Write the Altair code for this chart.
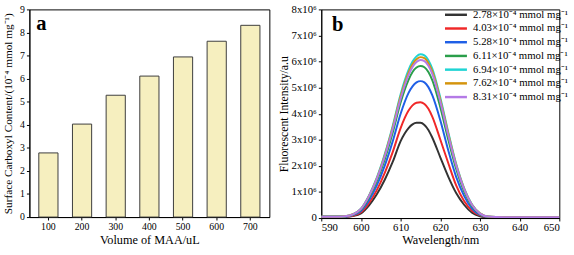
import altair as alt
import pandas as pd

# ---------- panel a data ----------
volumes = ["100", "200", "300", "400", "500", "600", "700"]
carboxyl = [2.78, 4.03, 5.28, 6.11, 6.94, 7.62, 8.31]

# ---------- panel b data (intensity in units of 1e6) ----------
wavelength = [590, 593, 596, 598, 600, 602, 604, 606, 608, 610, 612, 613, 614, 615,
              616, 617, 618, 620, 622, 624, 626, 628, 630, 632, 636, 640, 645, 650]
s_278 = [.05, .05, .05, .08, .18, .48, .91, 1.47, 2.15, 2.95, 3.45, 3.59, 3.65, 3.65,
         3.57, 3.38, 3.08, 2.33, 1.59, .96, .51, .20, .07, .03, .03, .03, .03, .03]
s_403 = [.05, .05, .05, .09, .22, .57, 1.07, 1.73, 2.53, 3.45, 4.12, 4.32, 4.42, 4.44,
         4.37, 4.19, 3.88, 3.01, 2.11, 1.25, .65, .28, .10, .04, .03, .03, .03, .03]
s_528 = [.05, .05, .05, .11, .27, .67, 1.25, 2.01, 2.94, 4.00, 4.80, 5.05, 5.20, 5.25,
         5.20, 5.02, 4.70, 3.75, 2.60, 1.58, .85, .36, .12, .04, .03, .03, .03, .03]
s_611 = [.05, .05, .06, .13, .32, .78, 1.42, 2.25, 3.27, 4.43, 5.30, 5.60, 5.77, 5.83,
         5.78, 5.60, 5.28, 4.25, 3.01, 1.88, 1.02, .45, .15, .05, .03, .03, .03, .03]
s_694 = [.05, .05, .07, .15, .36, .86, 1.55, 2.45, 3.53, 4.75, 5.68, 6.00, 6.20, 6.28,
         6.24, 6.05, 5.72, 4.62, 3.30, 2.08, 1.15, .52, .18, .06, .03, .03, .03, .03]
s_762 = [.05, .05, .07, .15, .35, .84, 1.52, 2.41, 3.47, 4.67, 5.58, 5.90, 6.09, 6.17,
         6.13, 5.94, 5.62, 4.54, 3.24, 2.04, 1.13, .51, .18, .06, .03, .03, .03, .03]
s_831 = [.05, .05, .07, .14, .35, .83, 1.50, 2.36, 3.41, 4.58, 5.48, 5.79, 5.98, 6.06,
         6.02, 5.84, 5.52, 4.46, 3.18, 2.01, 1.11, .50, .17, .06, .03, .03, .03, .03]

series_labels = [
    "2.78×10⁻⁴ mmol mg⁻¹",
    "4.03×10⁻⁴ mmol mg⁻¹",
    "5.28×10⁻⁴ mmol mg⁻¹",
    "6.11×10⁻⁴ mmol mg⁻¹",
    "6.94×10⁻⁴ mmol mg⁻¹",
    "7.62×10⁻⁴ mmol mg⁻¹",
    "8.31×10⁻⁴ mmol mg⁻¹",
]
series_values = [s_278, s_403, s_528, s_611, s_694, s_762, s_831]
series_colors = ["#333333", "#f02828", "#1f5fe6", "#2a9e4a", "#1fd4d4", "#d4940c", "#b47ae6"]

FONT = "Liberation Serif"

# ---------- panel a ----------
df_a = pd.DataFrame({"volume": volumes, "content": carboxyl})

bars = alt.Chart(df_a).mark_bar(
    fill="#f6efbf", stroke="#3a3a3a", strokeWidth=1
).encode(
    x=alt.X("volume:N", sort=volumes,
            scale=alt.Scale(paddingInner=0.43, paddingOuter=0.28),
            axis=alt.Axis(title="Volume of MAA/uL", labelAngle=0, labelFontSize=10,
                          titleFontSize=12.5, titleFontWeight="normal", titlePadding=2,
                          labelPadding=2, tickSize=3, domainColor="black", tickColor="black",
                          labelColor="black", titleColor="black")),
    y=alt.Y("content:Q", scale=alt.Scale(domain=[0, 9], nice=False),
            axis=alt.Axis(title="Surface Carboxyl Content/(10⁻⁴ mmol mg⁻¹)",
                          values=list(range(10)), labelFontSize=10, titleFontSize=11.5,
                          titleFontWeight="normal", titlePadding=6, labelPadding=2,
                          tickSize=3, grid=False, domainColor="black", tickColor="black",
                          labelColor="black", titleColor="black")),
)

label_a = alt.Chart(pd.DataFrame({"t": ["a"]})).mark_text(
    fontSize=21, fontWeight="bold", align="left", baseline="alphabetic", color="black"
).encode(text="t:N", x=alt.value(7), y=alt.value(21))

panel_a = alt.layer(bars, label_a).properties(width=245, height=212)

# ---------- panel b ----------
rows = []
for lab, vals in zip(series_labels, series_values):
    for w, v in zip(wavelength, vals):
        rows.append({"wl": w, "intensity": v, "series": lab})
df_b = pd.DataFrame(rows)

lines = alt.Chart(df_b).mark_line(strokeWidth=2, interpolate="monotone", clip=True).encode(
    x=alt.X("wl:Q", scale=alt.Scale(domain=[590, 650], nice=False),
            axis=alt.Axis(title="Wavelength/nm", values=list(range(590, 651, 10)),
                          labelFontSize=11, titleFontSize=12.5, titleFontWeight="normal",
                          titlePadding=1, labelPadding=1, tickSize=3, grid=False,
                          domainColor="black", tickColor="black", labelColor="black",
                          titleColor="black")),
    y=alt.Y("intensity:Q", scale=alt.Scale(domain=[0, 8], nice=False),
            axis=alt.Axis(title="Fluorescent Intensity/a.u", values=list(range(9)),
                          labelExpr="datum.value == 0 ? '0' : datum.value + 'x10⁶'",
                          labelFontSize=11, titleFontSize=12, titleFontWeight="normal",
                          titlePadding=1, labelPadding=2, tickSize=3, grid=False,
                          domainColor="black", tickColor="black", labelColor="black",
                          titleColor="black")),
    color=alt.Color("series:N", sort=series_labels,
                    scale=alt.Scale(domain=series_labels, range=series_colors),
                    legend=alt.Legend(title=None, orient="none", legendX=427, legendY=-3,
                                      symbolType="M-1.6,0H1.6", symbolSize=196,
                                      symbolStrokeWidth=2.5, labelFontSize=11,
                                      labelOffset=9, rowPadding=0, padding=0,
                                      labelColor="black", labelLimit=200)),
)

label_b = alt.Chart(pd.DataFrame({"t": ["b"]})).mark_text(
    fontSize=21, fontWeight="bold", align="left", baseline="alphabetic", color="black"
).encode(text="t:N", x=alt.value(11), y=alt.value(22))

panel_b = alt.layer(lines, label_b).properties(width=243, height=213)

chart = alt.hconcat(panel_a, panel_b, spacing=6).properties(
    padding={"left": 2, "top": 0, "right": 6, "bottom": 0}
).configure(font=FONT).configure_view(stroke="black", strokeWidth=1)

chart.save("out.html", embed_options={"renderer": "svg", "actions": False})
